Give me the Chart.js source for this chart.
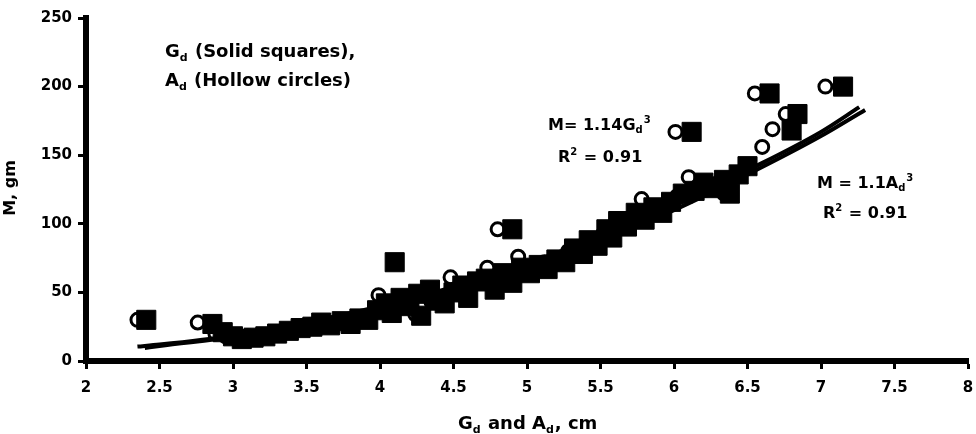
<!DOCTYPE html>
<html><head><meta charset="utf-8">
<script src="https://cdn.jsdelivr.net/npm/chart.js@4.4.1/dist/chart.umd.min.js"></script>
<style>html,body{margin:0;padding:0;background:#fff;overflow:hidden;}#wrap{width:976px;height:434px;}canvas{display:block;}</style>
</head><body><div id="wrap"><canvas id="c" width="976" height="434"></canvas></div>
<script>
// ---- data ----
const xTickLabels = [2, 2.5, 3, 3.5, 4, 4.5, 5, 5.5, 6, 6.5, 7, 7.5, 8];
const yTickLabels = [0, 50, 100, 150, 200, 250];

// G_d (solid squares): diameter, cm  /  mass, gm
const gdDiam = [2.41,2.86,2.93,3.00,3.06,3.14,3.22,3.30,3.38,3.46,3.54,3.60,3.66,3.74,3.80,3.86,3.92,3.98,4.04,4.08,4.10,4.14,4.20,4.26,4.28,4.34,4.38,4.44,4.50,4.56,4.60,4.66,4.72,4.78,4.84,4.90,4.90,4.96,5.02,5.08,5.14,5.20,5.26,5.32,5.38,5.42,5.48,5.54,5.58,5.62,5.68,5.74,5.80,5.86,5.92,5.98,6.06,6.12,6.14,6.20,6.26,6.34,6.38,6.44,6.50,6.65,6.80,6.84,7.15];
const gdMass = [30,27,21,18,16,17,18,20,22,24,25,28,26,29,27,31,30,37,42,35,72,46,40,49,33,52,44,42,50,55,46,58,60,52,64,96,57,68,64,70,67,74,72,82,78,88,84,96,90,102,98,108,103,112,108,116,122,167,124,130,126,132,122,136,142,195,168,180,200];

// A_d (hollow circles): diameter, cm  /  mass, gm
const adDiam = [2.35,2.76,2.88,2.95,3.02,3.10,3.20,3.28,3.36,3.44,3.52,3.58,3.70,3.78,3.84,3.90,3.99,4.02,4.05,4.08,4.14,4.20,4.24,4.30,4.35,4.42,4.48,4.54,4.58,4.66,4.73,4.76,4.80,4.84,4.90,4.94,5.00,5.06,5.12,5.20,5.28,5.35,5.40,5.46,5.52,5.58,5.66,5.72,5.78,5.80,5.86,5.94,6.01,6.02,6.10,6.16,6.22,6.30,6.34,6.42,6.48,6.55,6.60,6.67,6.76,7.03];
const adMass = [30,28,20,18,16,18,19,21,22,24,26,27,28,28,30,32,48,38,36,43,41,46,34,50,43,44,61,52,48,57,68,55,96,60,64,76,68,66,72,71,80,78,86,84,93,96,98,105,118,104,110,113,167,120,134,127,125,130,122,134,140,195,156,169,180,200];

// fitted curves
const fitGdDiam = [2.40,2.50,3.00,3.50,4.00,4.50,5.00,5.50,6.00,6.50,7.00,7.30];
const fitGdMass = [9.5,11,17.5,26.5,38,52,68.5,88,110,136,164,183];
const fitAdDiam = [2.35,2.50,3.00,3.50,4.00,4.50,5.00,5.50,6.00,6.50,7.00,7.26];
const fitAdMass = [10.5,12,18.5,28,40,54,71,91,113,139,167,185];

const pts = (xs, ys) => xs.map((x, i) => ({x, y: ys[i]}));
const FONT = '"DejaVu Sans", "Liberation Sans", Arial, sans-serif';
const PLOT_RIGHT = 968;

function rich(ctx, x, y, base, parts) {
  let cx = x;
  for (const [t, m] of parts) {
    const size = m === 'n' ? base : Math.round(base * 0.62);
    ctx.font = `bold ${size}px ${FONT}`;
    const dy = m === 'sub' ? base * 0.2 : (m === 'sup' ? -base * 0.45 : 0);
    ctx.fillText(t, cx, y + dy);
    cx += ctx.measureText(t).width + (m === 'n' ? 0 : 1);
  }
  return cx - x;
}

const layoutFix = {
  id: 'layoutFix',
  afterLayout(chart) {
    const xs = chart.scales.x;
    if (Math.abs(chart.chartArea.right - PLOT_RIGHT) > 0.5) {
      chart.chartArea.right = PLOT_RIGHT;
      chart.chartArea.width = PLOT_RIGHT - chart.chartArea.left;
      xs.right = PLOT_RIGHT;
      xs.width = PLOT_RIGHT - xs.left;
      xs.configure();
    }
  }
};

const textPlugin = {
  id: 'texts',
  afterDraw(chart) {
    const ctx = chart.ctx;
    ctx.save();
    ctx.fillStyle = '#000';
    ctx.textAlign = 'left';
    ctx.textBaseline = 'alphabetic';
    rich(ctx, 165, 57, 18, [['G','n'],['d','sub'],[' (Solid squares),','n']]);
    rich(ctx, 165, 86, 18, [['A','n'],['d','sub'],[' (Hollow circles)','n']]);
    rich(ctx, 548, 130, 16, [['M= 1.14G','n'],['d','sub'],['3','sup']]);
    rich(ctx, 558, 162, 16, [['R','n'],['2','sup'],[' = 0.91','n']]);
    rich(ctx, 817, 188, 16, [['M = 1.1A','n'],['d','sub'],['3','sup']]);
    rich(ctx, 823, 218, 16, [['R','n'],['2','sup'],[' = 0.91','n']]);
    // x axis title
    rich(ctx, 458, 429, 18, [['G','n'],['d','sub'],[' and A','n'],['d','sub'],[', cm','n']]);
    // y axis title
    ctx.translate(15, 188);
    ctx.rotate(-Math.PI / 2);
    ctx.textAlign = 'center';
    ctx.font = `bold 16px ${FONT}`;
    ctx.fillText('M, gm', 0, 0);
    ctx.restore();
  }
};

new Chart(document.getElementById('c'), {
  data: {
    datasets: [
      { type: 'line', label: 'Gd fit', data: pts(fitGdDiam, fitGdMass), borderColor: '#000', borderWidth: 4,
        pointRadius: 0, cubicInterpolationMode: 'monotone', order: 0 },
      { type: 'line', label: 'Ad fit', data: pts(fitAdDiam, fitAdMass), borderColor: '#000', borderWidth: 4,
        pointRadius: 0, cubicInterpolationMode: 'monotone', order: 1 },
      { type: 'scatter', label: 'Gd', data: pts(gdDiam, gdMass), pointStyle: 'rect', pointRadius: 13.5,
        backgroundColor: '#000', borderColor: '#000', borderWidth: 1, order: 2 },
      { type: 'scatter', label: 'Ad', data: pts(adDiam, adMass), pointStyle: 'circle', pointRadius: 6.5,
        backgroundColor: '#fff', borderColor: '#000', borderWidth: 3, order: 3 }
    ]
  },
  options: {
    responsive: false,
    animation: false,
    devicePixelRatio: 1,
    layout: { padding: { top: 18, right: 8, left: 0, bottom: 0 } },
    plugins: { legend: { display: false }, tooltip: { enabled: false } },
    scales: {
      x: {
        type: 'linear', min: 2, max: 8,
        afterBuildTicks: s => { s.ticks = xTickLabels.map(v => ({ value: v })); },
        afterFit: s => { s.height = 73; },
        ticks: { color: '#000', padding: 10, maxRotation: 0, autoSkip: false,
                 callback: v => String(v),
                 font: { family: FONT, size: 15, weight: 'bold' } },
        grid: { drawOnChartArea: false, drawTicks: true, tickLength: 8, tickWidth: 3, tickColor: '#000' },
        border: { display: true, color: '#000', width: 6 }
      },
      y: {
        type: 'linear', min: 0, max: 250,
        afterBuildTicks: s => { s.ticks = yTickLabels.map(v => ({ value: v })); },
        afterFit: s => { s.width = 86; },
        ticks: { color: '#000', padding: 6, callback: v => String(v),
                 font: { family: FONT, size: 15, weight: 'bold' } },
        grid: { drawOnChartArea: false, drawTicks: true, tickLength: 8, tickWidth: 3, tickColor: '#000' },
        border: { display: true, color: '#000', width: 6 }
      }
    }
  },
  plugins: [layoutFix, textPlugin]
});
</script>
</body></html>
